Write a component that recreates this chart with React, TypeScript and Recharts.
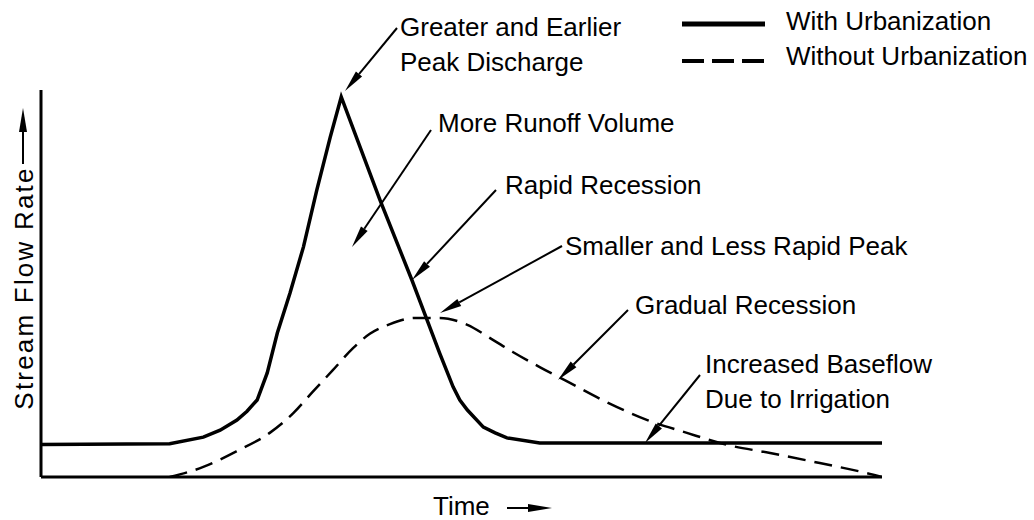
import { Legend, Line, LineChart, XAxis, YAxis } from "recharts"

// Time runs 0..100 along the axis, stream flow 0..100 up to the top of the axis
const urbanTime = [0, 15.3, 19.3, 21.3, 23.3, 24.5, 25.7, 26.9, 28.1, 29.6, 31.2, 32.8, 34.4, 35.7, 40.3, 44.1, 45.9, 47.4, 49.0, 49.8, 50.7, 52.6, 54.0, 55.4, 59.3, 100]
const urbanFlow = [8.4, 8.6, 10.3, 12.1, 14.7, 17.0, 19.9, 26.9, 37.2, 47.5, 59.4, 74.2, 87.9, 98.2, 71.6, 50.9, 40.6, 32.0, 23.3, 19.9, 17.3, 12.9, 11.4, 10.1, 8.8, 8.8]

const naturalTime = [15.3, 19.3, 23.3, 27.2, 30.0, 32.3, 34.7, 37.1, 39.1, 41.5, 44.5, 47.4, 50.7, 53.4, 56.1, 59.3, 62.9, 67.5, 72.1, 76.8, 81.6, 86.7, 92.6, 98.2, 100]
const naturalFlow = [0, 2.6, 6.7, 11.4, 16.5, 22.0, 27.6, 33.3, 37.0, 39.5, 41.1, 41.1, 39.3, 35.9, 32.3, 28.4, 24.3, 19.1, 14.7, 11.4, 8.3, 6.2, 3.6, 1.0, 0]

const seriesNames = ["With Urbanization", "Without Urbanization"]

const urbanData = urbanTime.map((t, i) => ({ t, flow: urbanFlow[i] }))
const naturalData = naturalTime.map((t, i) => ({ t, flow: naturalFlow[i] }))

const FONT = '"Liberation Sans", Arial, Helvetica, sans-serif'
const DASH = "18 9"

// callouts: text lines, text anchor (left, first baseline), arrow from -> to
type Note = { lines: string[]; x: number; y: number; from: [number, number]; to: [number, number] }
const notes: Note[] = [
  { lines: ["Greater and Earlier", "Peak Discharge"], x: 400, y: 36, from: [397, 28], to: [345, 91] },
  { lines: ["More Runoff Volume"], x: 438, y: 132, from: [431, 130], to: [352, 247] },
  { lines: ["Rapid Recession"], x: 505, y: 194, from: [496, 190], to: [412, 280] },
  { lines: ["Smaller and Less Rapid Peak"], x: 565, y: 255, from: [562, 246], to: [440, 313] },
  { lines: ["Gradual Recession"], x: 635, y: 314, from: [628, 310], to: [558, 380] },
  { lines: ["Increased Baseflow", "Due to Irrigation"], x: 705, y: 373, from: [700, 375], to: [645, 443] },
]

function Arrow({ from, to, len = 22, half = 4 }: { from: [number, number]; to: [number, number]; len?: number; half?: number }) {
  const dx = to[0] - from[0]
  const dy = to[1] - from[1]
  const d = Math.hypot(dx, dy)
  const ux = dx / d
  const uy = dy / d
  const bx = to[0] - ux * len
  const by = to[1] - uy * len
  const pts = `${to[0]},${to[1]} ${bx - uy * half},${by + ux * half} ${bx + uy * half},${by - ux * half}`
  return (
    <g>
      <line x1={from[0]} y1={from[1]} x2={bx} y2={by} stroke="#000" strokeWidth={2} />
      <polygon points={pts} fill="#000" />
    </g>
  )
}

function LegendBox({ payload }: any) {
  return (
    <svg width={360} height={80}>
      {(payload || []).map((entry: any, i: number) => {
        const y = i === 0 ? 24 : 61
        const dashed = entry.value === seriesNames[1]
        return (
          <g key={entry.value}>
            <line
              x1={2}
              x2={85}
              y1={y}
              y2={y}
              stroke="#000"
              strokeWidth={dashed ? 4 : 5}
              strokeDasharray={dashed ? "22 8" : undefined}
            />
            <text x={106} y={i === 0 ? 30 : 65} fontFamily={FONT} fontSize={26} fill="#000">
              {entry.value}
            </text>
          </g>
        )
      })}
    </svg>
  )
}

export default function App() {
  return (
    <div style={{ position: "absolute", left: 0, top: 0, width: 1034, height: 520, background: "#fff" }}>
      <LineChart width={1034} height={520} margin={{ top: 90, right: 152, bottom: 41, left: 39 }}>
        <XAxis
          dataKey="t"
          type="number"
          domain={[0, 100]}
          allowDataOverflow
          tick={false}
          tickLine={false}
          height={2}
          axisLine={{ stroke: "#000", strokeWidth: 3 }}
        />
        <YAxis
          type="number"
          domain={[0, 100]}
          allowDataOverflow
          tick={false}
          tickLine={false}
          width={2}
          axisLine={{ stroke: "#000", strokeWidth: 3 }}
        />
        <Legend
          layout="vertical"
          align="center"
          verticalAlign="middle"
          wrapperStyle={{ top: 0, left: 680, width: 360, height: 80 }}
          content={<LegendBox />}
        />
        <Line
          data={urbanData}
          dataKey="flow"
          name={seriesNames[0]}
          type="linear"
          stroke="#000"
          strokeWidth={3.5}
          dot={false}
          isAnimationActive={false}
        />
        <Line
          data={naturalData}
          dataKey="flow"
          name={seriesNames[1]}
          type="monotone"
          stroke="#000"
          strokeWidth={2.5}
          strokeDasharray={DASH}
          dot={false}
          isAnimationActive={false}
        />
      </LineChart>
      <svg width={1034} height={520} style={{ position: "absolute", left: 0, top: 0, pointerEvents: "none" }}>
        {notes.map((n) => (
          <g key={n.lines[0]}>
            <Arrow from={n.from} to={n.to} />
            {n.lines.map((s, i) => (
              <text key={s} x={n.x} y={n.y + i * 35} fontFamily={FONT} fontSize={26} fill="#000">
                {s}
              </text>
            ))}
          </g>
        ))}
        <text
          x={33}
          y={288}
          transform="rotate(-90 33 288)"
          textAnchor="middle"
          fontFamily={FONT}
          fontSize={26}
          letterSpacing={2.2}
          fill="#000"
        >
          Stream Flow Rate
        </text>
        <Arrow from={[23, 164]} to={[23, 108]} len={24} half={4} />
        <text x={433} y={515} fontFamily={FONT} fontSize={26} fill="#000">
          Time
        </text>
        <Arrow from={[507, 508]} to={[552, 508]} len={24} half={4} />
      </svg>
    </div>
  )
}
